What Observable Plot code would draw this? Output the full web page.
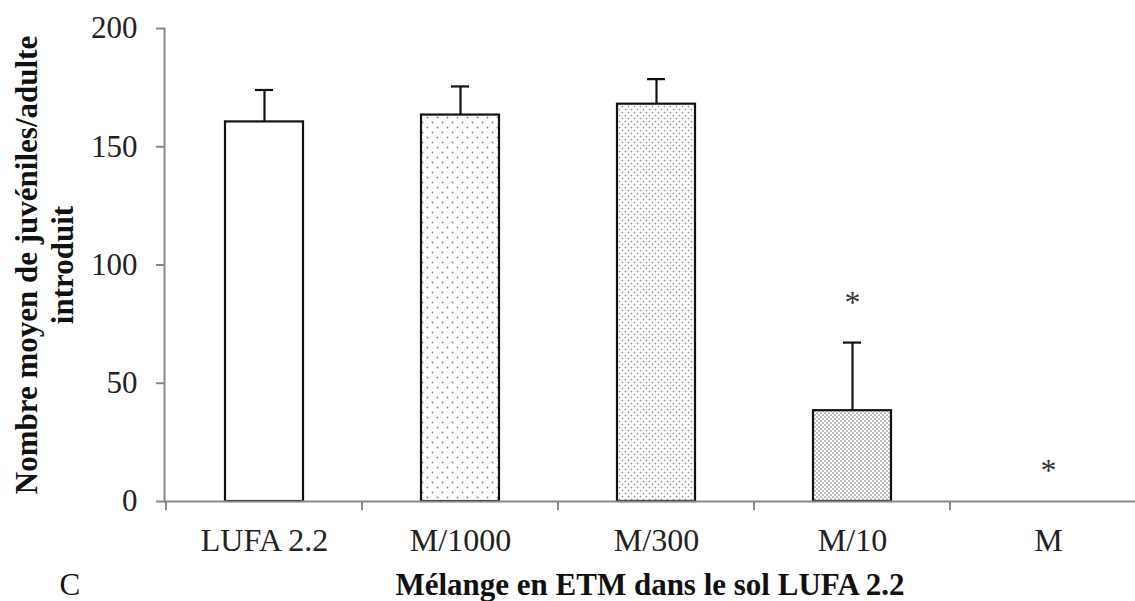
<!DOCTYPE html>
<html><head><meta charset="utf-8">
<script src="https://cdn.jsdelivr.net/npm/d3@7"></script>
<script src="https://cdn.jsdelivr.net/npm/@observablehq/plot@0.6"></script>
<style>html,body{margin:0;padding:0;background:#fff} svg{display:block}</style>
</head><body><div id="chart"></div>
<script>
const categories = ["LUFA 2.2", "M/1000", "M/300", "M/10", "M"];
const means = [160.5, 163.4, 168.0, 38.4, 0];
const errors = [13.5, 12.1, 10.6, 28.8, 0];
const yTicks = [0, 50, 100, 150, 200];
const starCategories = ["M/10", "M"];
const starValues = [84, 13];
const fills = ["white", "url(#dots1)", "url(#dots2)", "url(#dots3)", "white"];
const yTitle = "Nombre moyen de juvéniles/adulte\nintroduit";
const xTitle = "Mélange en ETM dans le sol LUFA 2.2";
const panelLetter = "C";

const data = categories.map((c, i) => ({cat: c, mean: means[i], err: errors[i], top: means[i] + errors[i]}));
const bars = data.filter(d => d.mean > 0);
const stars = starCategories.map((c, i) => ({cat: c, y: starValues[i]}));

const font = '"Liberation Serif","Times New Roman",serif';
const axisGray = "#898989";
const ink = "#111";

const plot = Plot.plot({
  width: 1135, height: 601,
  marginLeft: 164, marginRight: 0, marginTop: 28, marginBottom: 100,
  style: {fontFamily: font, background: "white", overflow: "visible"},
  x: {domain: categories, range: [164, 1148], paddingInner: 0.6, paddingOuter: 0.3, align: 0.5, label: null},
  y: {domain: [0, 200], label: null},
  color: {domain: categories, range: fills},
  marks: [
    Plot.axisY({ticks: yTicks, tickSize: 8, tickPadding: 19, fontSize: 31, stroke: axisGray, strokeWidth: 2, fill: "#222", label: null}),
    Plot.axisX({tickSize: 0, tickPadding: 27, fontSize: 32, fill: "#222", label: null}),
    Plot.frame({anchor: "left", stroke: axisGray, strokeWidth: 2}),
    Plot.barY(bars, {x: "cat", y: "mean", fill: "cat", stroke: ink, strokeWidth: 2.2}),
    Plot.ruleX(bars, {x: "cat", y1: "mean", y2: "top", stroke: ink, strokeWidth: 2.2}),
    Plot.tickY(bars, {x: "cat", y: "top", stroke: ink, strokeWidth: 2.2, insetLeft: 30, insetRight: 30}),
    Plot.ruleY([0], {stroke: axisGray, strokeWidth: 2}),
    Plot.text(stars, {x: "cat", y: "y", text: () => "*", fontSize: 32, fill: "#333"}),
    Plot.text([yTitle], {text: d => d, frameAnchor: "left", rotate: -90, textAnchor: "middle", lineAnchor: "bottom", lineHeight: 1.15, fontSize: 31, fontWeight: "bold", fill: ink, dx: -92}),
    Plot.text([xTitle], {text: d => d, frameAnchor: "bottom", lineAnchor: "bottom", fontSize: 31, fontWeight: "bold", fill: ink, dx: 0, dy: 93}),
    Plot.text([panelLetter], {text: d => d, frameAnchor: "bottom-left", textAnchor: "start", lineAnchor: "bottom", fontSize: 31, fill: ink, dx: -105, dy: 93})
  ]
});

// dot patterns for the bar fills
const svg = d3.select(plot);
const defs = svg.insert("defs", ":first-child");
function dots(id, size, r, color) {
  const p = defs.append("pattern").attr("id", id).attr("patternUnits", "userSpaceOnUse")
    .attr("width", size).attr("height", size);
  p.append("rect").attr("width", size).attr("height", size).attr("fill", "white");
  p.append("circle").attr("cx", size / 4).attr("cy", size / 4).attr("r", r).attr("fill", color);
  p.append("circle").attr("cx", size * 3 / 4).attr("cy", size * 3 / 4).attr("r", r).attr("fill", color);
}
dots("dots1", 10, 0.9, "#8a8a8a");
dots("dots2", 6, 0.85, "#8a8a8a");
dots("dots3", 4, 0.85, "#858585");

// category boundary ticks below the x axis, from Plot's x scale
const sx = plot.scale("x");
const sy = plot.scale("y");
const y0 = sy.apply(0);
svg.append("g").attr("stroke", axisGray).attr("stroke-width", 2)
  .selectAll("line").data(categories).join("line")
  .attr("x1", c => sx.apply(c) + sx.bandwidth / 2 - sx.step / 2)
  .attr("x2", c => sx.apply(c) + sx.bandwidth / 2 - sx.step / 2)
  .attr("y1", y0).attr("y2", y0 + 9);

document.getElementById("chart").appendChild(plot);
</script>
</body></html>
